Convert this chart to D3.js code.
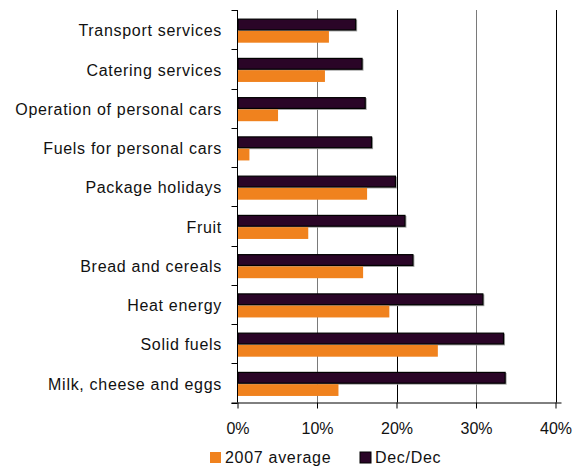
<!DOCTYPE html>
<html>
<head>
<meta charset="utf-8">
<script src="https://cdn.jsdelivr.net/npm/d3@7"></script>
<style>
  body { margin: 0; background: #fff; }
  text { font-family: "Liberation Sans", Arial, sans-serif; fill: #111; }
</style>
</head>
<body>
<div id="chart"></div>
<script>
// categories top to bottom
var categories = ["Transport services", "Catering services", "Operation of personal cars",
  "Fuels for personal cars", "Package holidays", "Fruit", "Bread and cereals",
  "Heat energy", "Solid fuels", "Milk, cheese and eggs"];
var decDec = [14.8, 15.6, 16.0, 16.8, 19.8, 21.0, 22.0, 30.8, 33.4, 33.6];
var avg2007 = [11.5, 11.0, 5.1, 1.5, 16.3, 8.9, 15.8, 19.1, 25.2, 12.7];
var seriesNames = ["Dec/Dec", "2007 average"];
var xTicks = [0, 10, 20, 30, 40];

const width = 577, height = 468;
const pLeft = 237.5, pRight = 555.5, pTop = 10, pBottom = 402.5;

var svg = d3.select("#chart").append("svg")
  .attr("width", width)
  .attr("height", height);

var x = d3.scaleLinear().domain([0, 40]).range([pLeft, pRight]);
var y = d3.scaleBand().domain(categories).range([pTop + 0.8, pBottom + 0.8])
  .paddingInner(0.4).paddingOuter(0.2);
var ys = d3.scaleBand().domain(seriesNames).range([0, y.bandwidth()]);

// grid lines
svg.append("g").selectAll("line")
  .data(xTicks.slice(1))
  .enter().append("line")
    .attr("x1", function(d) { return Math.round(x(d)) + 0.5; })
    .attr("x2", function(d) { return Math.round(x(d)) + 0.5; })
    .attr("y1", pTop)
    .attr("y2", pBottom)
    .style("stroke", function(d) { return d % 20 == 0 ? "#000" : "#7a7a7a"; })
    .style("stroke-width", 1);

var rows = [];
categories.forEach(function(c, i) {
  rows.push({cat: c, series: "Dec/Dec", v: decDec[i]});
  rows.push({cat: c, series: "2007 average", v: avg2007[i]});
});

// shadow for dark bars
svg.append("g").selectAll("rect")
  .data(rows.filter(function(d) { return d.series == "Dec/Dec"; }))
  .enter().append("rect")
    .attr("x", x(0) + 1)
    .attr("y", function(d) { return y(d.cat) + ys(d.series) + 1; })
    .attr("width", function(d) { return x(d.v) - x(0) + 1; })
    .attr("height", ys.bandwidth())
    .style("fill", "#a0a0a0");

svg.append("g").selectAll("rect")
  .data(rows)
  .enter().append("rect")
    .attr("x", function(d) { return d.series == "Dec/Dec" ? x(0) + 0.5 : x(0); })
    .attr("y", function(d) { return y(d.cat) + ys(d.series) + 0.5; })
    .attr("width", function(d) { return x(d.v) - x(0); })
    .attr("height", function(d) { return d.series == "Dec/Dec" ? ys.bandwidth() - 1 : ys.bandwidth(); })
    .style("fill", function(d) { return d.series == "Dec/Dec" ? "#2a0527" : "#f0821e"; })
    .style("stroke", function(d) { return d.series == "Dec/Dec" ? "#000" : "none"; })
    .style("stroke-width", 1.2);

// y axis
var yEdges = d3.range(categories.length + 1).map(function(i) {
  return pTop + i * (pBottom - pTop) / categories.length;
});
var ya = svg.append("g");
ya.append("line")
  .attr("x1", pLeft).attr("x2", pLeft).attr("y1", pTop).attr("y2", pBottom)
  .style("stroke", "#000");
ya.selectAll(".tk").data(yEdges).enter().append("line")
  .attr("x1", pLeft - 6).attr("x2", pLeft)
  .attr("y1", function(d) { return Math.round(d) + 0.5; })
  .attr("y2", function(d) { return Math.round(d) + 0.5; })
  .style("stroke", "#000");

svg.append("g").selectAll("text")
  .data(categories)
  .enter().append("text")
    .attr("x", 222)
    .attr("y", function(d) { return y(d) + y.bandwidth() / 2 + 6; })
    .attr("text-anchor", "end")
    .style("font-size", "16px")
    .style("letter-spacing", "0.7px")
    .text(function(d) { return d; });

// x axis
var xAxis = d3.axisBottom(x).tickValues(xTicks).tickSize(6).tickPadding(14)
  .tickFormat(function(d) { return d + "%"; });
var xg = svg.append("g")
  .attr("transform", "translate(0," + pBottom + ")")
  .call(xAxis);
xg.select(".domain").attr("d", "M" + (pLeft - 6) + ",0.5H" + (pRight + 6)).style("stroke", "#000");
xg.selectAll(".tick line").style("stroke", "#000");
xg.selectAll("text")
  .style("font-size", "16px")
  .style("fill", "#111")
  .style("font-family", "'Liberation Sans', Arial, sans-serif");

// legend
var legend = [{name: "2007 average", color: "#f0821e", x: 210},
              {name: "Dec/Dec", color: "#2a0527", x: 360}];
var lg = svg.append("g").selectAll("g").data(legend).enter().append("g")
  .attr("transform", function(d) { return "translate(" + d.x + ",452)"; });
lg.append("rect")
  .attr("width", 11).attr("height", 11)
  .style("fill", function(d) { return d.color; })
  .style("stroke", function(d) { return d.name == "Dec/Dec" ? "#000" : "none"; });
lg.append("text")
  .attr("x", 15).attr("y", 11)
  .style("font-size", "16px")
  .style("letter-spacing", "0.7px")
  .text(function(d) { return d.name; });
</script>
</body>
</html>
